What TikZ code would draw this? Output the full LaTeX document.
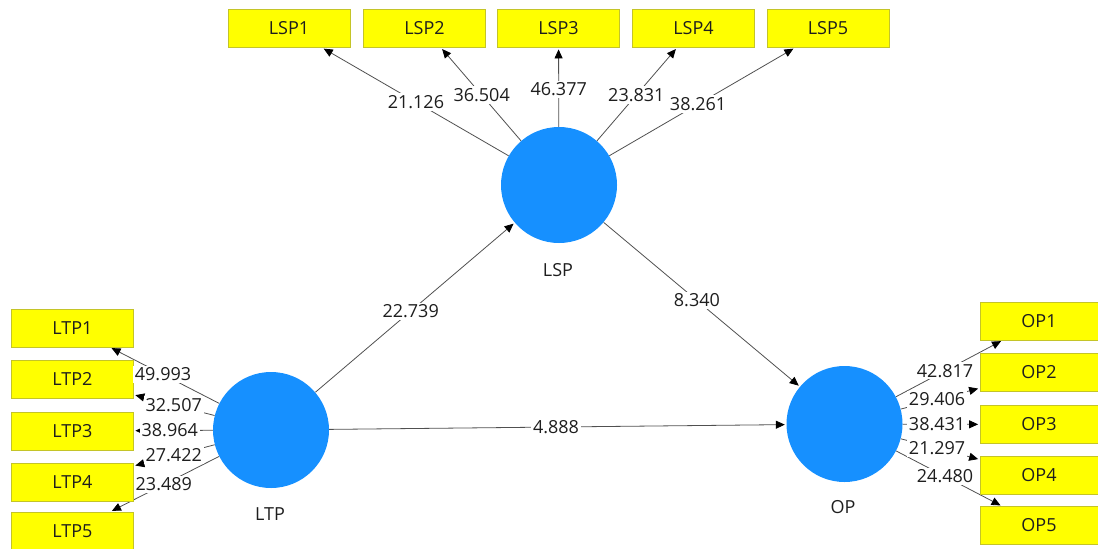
\documentclass[tikz,border=0pt]{standalone}
\usepackage{fontspec}
\setmainfont{Open Sans}
\usetikzlibrary{arrows.meta,calc}
\definecolor{lvblue}{RGB}{22,144,255}
\definecolor{indfill}{RGB}{255,255,0}
\definecolor{indline}{RGB}{196,196,40}
\definecolor{pathgray}{RGB}{80,80,80}
\definecolor{txt}{RGB}{30,30,30}
\pgfdeclarelayer{bg}
\pgfsetlayers{bg,main}
\tikzset{
  lv/.style={circle,fill=lvblue,draw=none,minimum size=116pt,inner sep=0pt},
  lvname/.style={font=\fontsize{18}{20}\selectfont,text=txt,inner sep=1pt},
  ind/.style={rectangle,fill=indfill,draw=indline,line width=0.8pt,minimum width=122pt,minimum height=38pt,inner sep=0pt,font=\fontsize{18}{20}\selectfont,text=txt},
  indR/.style={ind,minimum width=118pt},
  arr/.style={draw=pathgray,line width=0.8pt,-{Triangle[length=9pt,width=8pt,color=black]},shorten >=1.5pt},
  wt/.style={fill=white,inner sep=2pt,font=\fontsize{18}{20}\selectfont,text=txt}
}
\begin{document}
\begin{tikzpicture}[x=1pt,y=-1pt]
\useasboundingbox (0,0) rectangle (1098,549);

% latent variables
\node[lv] (LSP) at (559,185) {};
\node[lv] (LTP) at (271,430) {};
\node[lv] (OP)  at (844.5,424) {};
\node[lvname] (LSPn) at (558,270) {LSP};
\node[lvname] (LTPn) at (270,514) {LTP};
\node[lvname] (OPn)  at (843,507) {OP};

% indicators of LSP
\node[ind] (LSP1) at (289,28.5)   {LSP1};
\node[ind] (LSP2) at (424.5,28.5) {LSP2};
\node[ind] (LSP3) at (558.5,28.5) {LSP3};
\node[ind] (LSP4) at (693.5,28.5) {LSP4};
\node[ind] (LSP5) at (828,28.5)   {LSP5};

% indicators of LTP
\node[ind] (LTP1) at (72.5,328)   {LTP1};
\node[ind] (LTP2) at (72.5,379)   {LTP2};
\node[ind] (LTP3) at (72.5,431)   {LTP3};
\node[ind] (LTP4) at (72.5,482)   {LTP4};
\node[ind] (LTP5) at (72.5,531)   {LTP5};

% indicators of OP
\node[indR] (OP1) at (1039,321)   {OP1};
\node[indR] (OP2) at (1039,372.5) {OP2};
\node[indR] (OP3) at (1039,424.5) {OP3};
\node[indR] (OP4) at (1039,475)   {OP4};
\node[indR] (OP5) at (1039,525.5) {OP5};

% paths and loadings
\begin{pgfonlayer}{bg}
\foreach \i in {1,...,5} {
  \draw[arr] (LSP) -- (LSP\i);
  \draw[arr] (LTP) -- (LTP\i);
  \draw[arr] (OP) -- (OP\i);
}
\draw[arr] (LTP) -- (LSP);
\draw[arr] (LSP) -- (OP);
\draw[arr] (LTP) -- (OP);
\end{pgfonlayer}

\node[wt] (wLSP1) at ($(LSP)!0.53!(LSP1)$)  {21.126};
\node[wt] (wLSP2) at ($(LSP)!0.575!(LSP2)$) {36.504};
\node[wt] (wLSP3) at ($(LSP)!0.61!(LSP3)$)  {46.377};
\node[wt] (wLSP4) at ($(LSP)!0.575!(LSP4)$) {23.831};
\node[wt] (wLSP5) at ($(LSP)!0.517!(LSP5)$) {38.261};

\node[wt] (wLTP1) at ($(LTP)!0.544!(LTP1)$) {49.993};
\node[wt] (wLTP2) at ($(LTP)!0.49!(LTP2)$)  {32.507};
\node[wt] (wLTP3) at ($(LTP)!0.51!(LTP3)$)  {38.964};
\node[wt] (wLTP4) at ($(LTP)!0.49!(LTP4)$)  {27.422};
\node[wt] (wLTP5) at ($(LTP)!0.54!(LTP5)$)  {23.489};

\node[wt] (wOP1) at ($(OP)!0.517!(OP1)$) {42.817};
\node[wt] (wOP2) at ($(OP)!0.476!(OP2)$) {29.406};
\node[wt] (wOP3) at ($(OP)!0.476!(OP3)$) {38.431};
\node[wt] (wOP4) at ($(OP)!0.476!(OP4)$) {21.297};
\node[wt] (wOP5) at ($(OP)!0.517!(OP5)$) {24.480};

\node[wt] (wA) at ($(LTP)!0.485!(LSP)$) {22.739};
\node[wt] (wB) at ($(LSP)!0.483!(OP)$)  {8.340};
\node[wt] (wC) at ($(LTP)!0.497!(OP)$)  {4.888};
\end{tikzpicture}
\end{document}
